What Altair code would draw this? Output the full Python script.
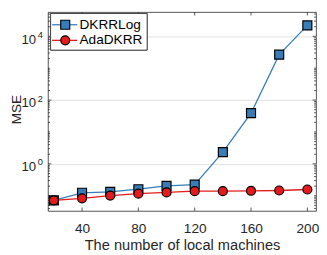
import altair as alt
import pandas as pd

# ---- data ----
machines = [20, 40, 60, 80, 100, 120, 140, 160, 180, 200]
dkrrlog = [0.072, 0.124, 0.133, 0.160, 0.204, 0.223, 2.33, 38.9, 2660, 22000]
adadkrr = [0.072, 0.083, 0.101, 0.116, 0.127, 0.139, 0.139, 0.143, 0.146, 0.157]
series_names = ["DKRRLog", "AdaDKRR"]
series_colors = ["#377EB8", "#E41A1C"]
series_shapes = ["square", "circle"]
x_ticks = [40, 80, 120, 160, 200]
y_major = [1, 100, 10000]
y_exponents = ["0", "2", "4"]
x_domain = [15.8, 206.2]
y_domain = [0.03334, 57677]

W, H = 275, 204
FONT = "Liberation Sans"
AX = "#262626"

y_minor = [m * 10 ** k for k in range(-2, 5) for m in range(1, 10)
           if y_domain[0] <= m * 10 ** k <= y_domain[1] and m * 10 ** k not in y_major]

df = pd.DataFrame({
    "x": machines * 2,
    "y": dkrrlog + adadkrr,
    "series": [series_names[0]] * len(machines) + [series_names[1]] * len(machines),
})

xscale = alt.Scale(domain=x_domain, nice=False, zero=False)
yscale = alt.Scale(type="log", domain=y_domain, nice=False)

x_axis = alt.Axis(values=x_ticks, ticks=False, domain=False, grid=False,
                  labelFontSize=14, labelPadding=11, labelColor=AX, labelFont=FONT,
                  title="The number of local machines", titleFontSize=15,
                  titleFontWeight="normal", titleFont=FONT, titleColor=AX,
                  titleY=40, titleBaseline="alphabetic")
y_axis = alt.Axis(values=y_major, grid=True, gridColor="#e0e0e0", gridWidth=1,
                  ticks=False, labels=False, domain=False,
                  title="MSE", titleFontSize=14, titleFontWeight="normal",
                  titleFont=FONT, titleColor=AX, titleX=-28, titleY=99.5,
                  titleBaseline="alphabetic", titleAngle=270)


def X():
    return alt.X("x:Q", scale=xscale, axis=x_axis)


def Y():
    return alt.Y("y:Q", scale=yscale, axis=y_axis)


base = alt.Chart(df)
layers = []

# ticks
xt = pd.DataFrame({"x": x_ticks})
for y0, y1 in [(H, H - 3.5), (0, 3.5)]:
    layers.append(alt.Chart(xt).mark_rule(color=AX, strokeWidth=0.8).encode(
        x=X(), y=alt.value(y0), y2=alt.value(y1)))
ymaj = pd.DataFrame({"y": y_major})
ymin = pd.DataFrame({"y": y_minor})
for dat, ln in [(ymaj, 3.5), (ymin, 2)]:
    for x0, x1 in [(0, ln), (W - ln, W)]:
        layers.append(alt.Chart(dat).mark_rule(color=AX, strokeWidth=0.8).encode(
            y=Y(), x=alt.value(x0), x2=alt.value(x1)))

# y tick labels 10^n
ylab = pd.DataFrame({"y": y_major, "exp": y_exponents})
layers.append(alt.Chart(ylab).mark_text(text="10", align="right", baseline="alphabetic",
                                        dy=7.5, fontSize=13.5, font=FONT, color=AX).encode(
    x=alt.value(-12.2), y=Y()))
layers.append(alt.Chart(ylab).mark_text(align="left", baseline="alphabetic",
                                        dy=1.5, fontSize=9.5, font=FONT, color=AX).encode(
    x=alt.value(-10.4), y=Y(), text="exp:N"))

# series
for name, col, shp in zip(series_names, series_colors, series_shapes):
    sub = base.transform_filter(alt.datum.series == name)
    layers.append(sub.mark_line(color=col, strokeWidth=1.3).encode(x=X(), y=Y()))
    layers.append(sub.mark_point(shape=shp, filled=True, fill=col, stroke="black",
                                 strokeWidth=1.2, size=85, opacity=1).encode(x=X(), y=Y()))

# legend
leg = pd.DataFrame({"label": series_names})
layers.append(alt.Chart(leg).mark_rect(fill="white", stroke=AX, strokeWidth=0.8).encode(
    x=alt.value(2.7), x2=alt.value(101.7), y=alt.value(1.5), y2=alt.value(39)))
for i, (name, col, shp) in enumerate(zip(series_names, series_colors, series_shapes)):
    yy = 13 + 16 * i
    one = alt.Chart(pd.DataFrame({"label": [name]}))
    layers.append(one.mark_rule(color=col, strokeWidth=1.3).encode(
        x=alt.value(4.3), x2=alt.value(30), y=alt.value(yy)))
    layers.append(one.mark_point(shape=shp, filled=True, fill=col, stroke="black",
                                 strokeWidth=1.2, size=85, opacity=1).encode(
        x=alt.value(17.7), y=alt.value(yy)))
    layers.append(one.mark_text(align="left", baseline="middle", fontSize=14, font=FONT,
                                color="black").encode(
        x=alt.value(32.3), y=alt.value(yy), text="label:N"))

chart = alt.layer(*layers).properties(
    width=W, height=H,
    autosize=alt.AutoSizeParams(type="none"),
    padding={"left": 41, "top": 1, "right": 3, "bottom": 42},
).configure_view(stroke=AX, strokeWidth=0.8)

chart.save("out.html", embed_options={"renderer": "svg", "actions": False})
